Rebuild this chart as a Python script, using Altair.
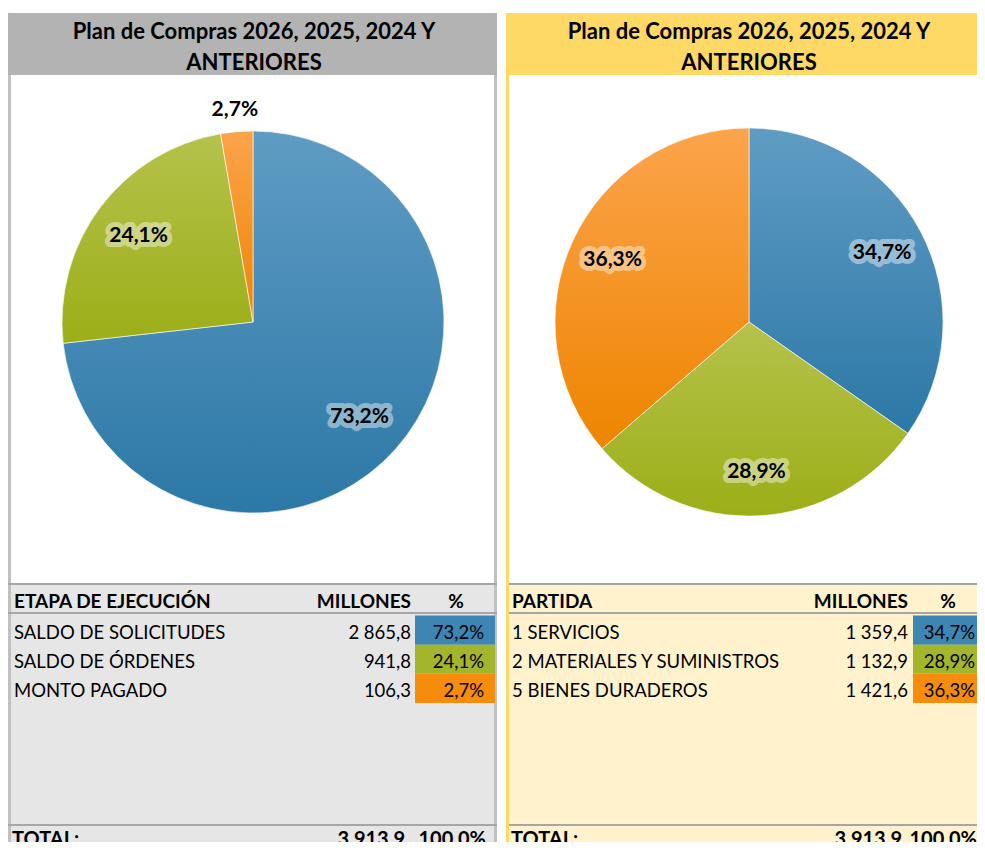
import altair as alt
import pandas as pd

# ---------------- data ----------------
etapas = ["SALDO DE SOLICITUDES", "SALDO DE ÓRDENES", "MONTO PAGADO"]
millones_etapa = [2865.8, 941.8, 106.3]

partidas = ["1 SERVICIOS", "2 MATERIALES Y SUMINISTROS", "5 BIENES DURADEROS"]
millones_partida = [1359.4, 1132.9, 1421.6]

titulo_1 = "Plan de Compras 2026, 2025, 2024 Y"
titulo_2 = "ANTERIORES"
encabezado_izq = ["ETAPA DE EJECUCIÓN", "MILLONES", "%"]
encabezado_der = ["PARTIDA", "MILLONES", "%"]
etiqueta_total = "TOTAL:"

# ---------------- styles ----------------
FONT = "Lato"
solid = ["#3d86b4", "#a3b52a", "#f58c0c"]
grads = [("#5f9cc4", "#2c78a6"), ("#b6c24c", "#9cae17"), ("#fca44c", "#ee8500")]
GRAY_HEAD = "#b3b3b3"
GRAY_BORDER = "#c0c0c0"
GRAY_TABLE = "#e6e6e6"
LINE = "#a6a6a6"
YELLOW_HEAD = "#ffd966"
YELLOW_TABLE = "#fff2cc"

W, H = 969, 834


def frame(cats, vals):
    return pd.DataFrame({"idx": list(range(len(cats))), "cat": cats, "value": vals})


df_l = frame(etapas, millones_etapa)
df_r = frame(partidas, millones_partida)

dummy = alt.Data(values=[{"k": 0}])


def rect(x, x2, y, y2, color):
    return alt.Chart(dummy).mark_rect(color=color).encode(
        x=alt.value(x), x2=alt.value(x2), y=alt.value(y), y2=alt.value(y2))


def hline(x, x2, y, color=LINE, w=2):
    return alt.Chart(dummy).mark_rule(color=color, strokeWidth=w).encode(
        x=alt.value(x), x2=alt.value(x2), y=alt.value(y))


def txt(s, x, y, size, bold=False, align="left"):
    return alt.Chart(dummy).mark_text(
        text=s, font=FONT, fontSize=size, fontWeight="bold" if bold else "normal",
        align=align, baseline="middle", color="black").encode(x=alt.value(x), y=alt.value(y))


def base(df):
    return (alt.Chart(df)
            .transform_joinaggregate(total="sum(value)")
            .transform_calculate(pct="datum.value / datum.total")
            .transform_window(cum="sum(pct)", sort=[alt.SortField("idx")], frame=[None, 0])
            .transform_calculate(start="datum.cum - datum.pct", mid="datum.cum - datum.pct / 2"))


def pie(df, cx, cy, r, r_in, r_out, lab_size=21):
    b = base(df)
    layers = []
    for i in range(len(df)):
        top, bot = grads[i]
        g = alt.LinearGradient(
            gradient="linear",
            stops=[alt.GradientStop(color=top, offset=0), alt.GradientStop(color=bot, offset=1)],
            x1=0, x2=0, y1=0, y2=1)
        layers.append(
            b.transform_filter(alt.datum.idx == i)
            .mark_arc(fill=g, outerRadius=r, stroke="white", strokeWidth=1, strokeOpacity=0.6)
            .encode(theta=alt.Theta("start:Q", scale=alt.Scale(domain=[0, 1]), stack=None),
                    theta2="cum:Q", x=alt.value(cx), y=alt.value(cy)))
    lab = b.encode(
        theta=alt.Theta("mid:Q", scale=alt.Scale(domain=[0, 1]), stack=None),
        x=alt.value(cx), y=alt.value(cy),
        text=alt.Text("pct:Q", format=".1%"))
    inside = lab.transform_filter(alt.datum.pct >= 0.05)
    layers.append(inside.mark_text(radius=r_in, font=FONT, fontSize=lab_size, fontWeight="bold",
                                   fill="white", stroke="white", strokeWidth=10, strokeJoin="round",
                                   opacity=0.42, baseline="middle"))
    layers.append(inside.mark_text(radius=r_in, font=FONT, fontSize=lab_size, fontWeight="bold",
                                   color="black", baseline="middle"))
    layers.append(lab.transform_filter(alt.datum.pct < 0.05)
                  .mark_text(radius=r_out, font=FONT, fontSize=lab_size, fontWeight="bold",
                             color="black", baseline="middle"))
    return layers


def table(df, x_label, x_mill, x_pct, cell_x, cell_x2, tot_y, size=18.5):
    b = base(df)
    n = len(df)
    yb = alt.Y("idx:O", scale=alt.Scale(type="band", domain=list(range(n)), range=[607.5, 695],
                                         paddingInner=0, paddingOuter=0), axis=None)
    cells = b.mark_rect().encode(
        y=yb, x=alt.value(cell_x), x2=alt.value(cell_x2),
        color=alt.Color("idx:O", scale=alt.Scale(domain=list(range(n)), range=solid), legend=None))
    common = dict(font=FONT, fontSize=size, color="black", baseline="middle", dy=3)
    labels = b.mark_text(align="left", **common).encode(y=yb, x=alt.value(x_label), text="cat:N")
    mills = b.mark_text(align="right", **common).encode(
        y=yb, x=alt.value(x_mill), text=alt.Text("value:Q", format=",.1f"))
    pcts = b.mark_text(align="right", **common).encode(
        y=yb, x=alt.value(x_pct), text=alt.Text("pct:Q", format=".1%"))
    tot = (base(df).transform_aggregate(value="sum(value)", pct="sum(pct)"))
    tcommon = dict(font=FONT, fontSize=20, fontWeight="bold", color="black", baseline="middle", align="right")
    tot_m = tot.mark_text(**tcommon).encode(x=alt.value(x_mill - 6), y=alt.value(tot_y),
                                            text=alt.Text("value:Q", format=",.1f"))
    tot_p = tot.mark_text(**tcommon).encode(x=alt.value(x_pct + 2), y=alt.value(tot_y),
                                            text=alt.Text("pct:Q", format=".1%"))
    return [cells, labels, mills, pcts, tot_m, tot_p]


TOT_Y = 832
layers = []
# ---- left panel background ----
layers += [
    rect(0, 489, 5, H, GRAY_BORDER),
    rect(0, 489, 5, 67, GRAY_HEAD),
    rect(3, 486, 67, 576, "white"),
    rect(3, 486, 576, H, GRAY_TABLE),
    hline(0, 489, 576), hline(0, 489, 605), hline(0, 489, 817),
]
# ---- right panel background ----
layers += [
    rect(498, W, 5, H, YELLOW_HEAD),
    rect(501, W, 67, 576, "white"),
    rect(501, W, 576, H, YELLOW_TABLE),
    hline(501, W, 576), hline(501, W, 605), hline(501, W, 817),
]
# ---- titles ----
for cx in (246, 741):
    layers += [txt(titulo_1, cx, 24, 22, bold=True, align="center"),
               txt(titulo_2, cx, 55, 22, bold=True, align="center")]

# ---- pies ----
layers += pie(df_l, 245, 314, 191, 143, 213)
layers += pie(df_r, 741, 314, 194, 150, 220)

# ---- table headers ----
layers += [txt(encabezado_izq[0], 6, 594, 19, bold=True),
           txt(encabezado_izq[1], 403, 594, 19, bold=True, align="right"),
           txt(encabezado_izq[2], 448, 594, 19, bold=True, align="center"),
           txt(encabezado_der[0], 504, 594, 19, bold=True),
           txt(encabezado_der[1], 900, 594, 19, bold=True, align="right"),
           txt(encabezado_der[2], 940, 594, 19, bold=True, align="center")]

# ---- tables ----
layers += table(df_l, 6, 403, 476, 407, 487, TOT_Y)
layers += table(df_r, 504, 900, 967, 905, W, TOT_Y)

# ---- totals labels ----
layers += [txt(etiqueta_total, 4, TOT_Y, 20, bold=True),
           txt(etiqueta_total, 503, TOT_Y, 20, bold=True)]

# ---- clean strip above the headers ----
layers += [rect(0, W, 0, 4.5, "white")]

chart = (alt.layer(*layers)
         .properties(width=W, height=H, padding=0, autosize=alt.AutoSizeParams(type="none"))
         .configure_view(stroke=None)
         .configure(locale={"number": {"decimal": ",", "thousands": " ", "grouping": [3],
                                       "currency": ["", ""]}}))

chart.save("out.html", embed_options={"renderer": "svg", "actions": False})
